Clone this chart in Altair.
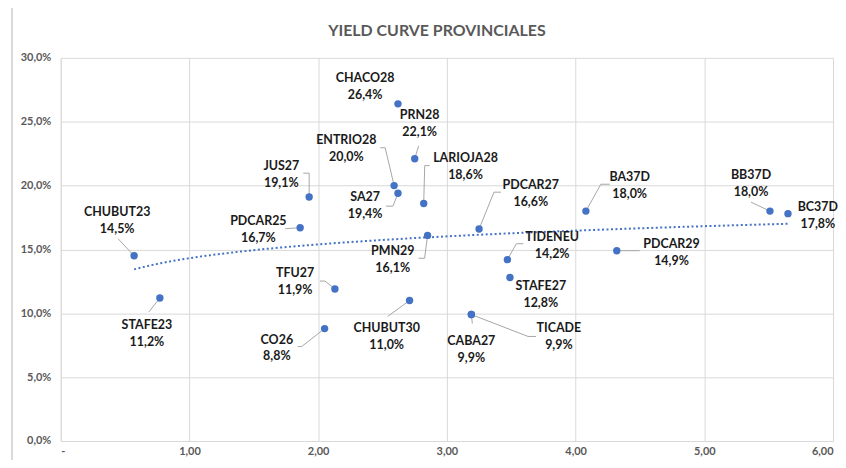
import altair as alt
import pandas as pd

# ---- data ----
names = ["CHUBUT23", "STAFE23", "CO26", "TFU27", "PDCAR25", "JUS27", "CHACO28",
         "PRN28", "ENTRIO28", "SA27", "LARIOJA28", "PMN29", "PDCAR27", "CHUBUT30",
         "CABA27", "TICADE", "TIDENEU", "STAFE27", "BA37D", "PDCAR29", "BB37D", "BC37D"]
duration = [0.57, 0.77, 2.05, 2.13, 1.86, 1.93, 2.62,
            2.75, 2.59, 2.62, 2.82, 2.85, 3.25, 2.71,
            3.19, 3.19, 3.47, 3.49, 4.08, 4.32, 5.51, 5.65]
yields = [14.5, 11.2, 8.8, 11.9, 16.7, 19.1, 26.4,
          22.1, 20.0, 19.4, 18.6, 16.1, 16.6, 11.0,
          9.9, 9.9, 14.2, 12.8, 18.0, 14.9, 18.0, 17.8]

x_ticks = [0, 1, 2, 3, 4, 5, 6]
y_ticks = [0, 5, 10, 15, 20, 25, 30]
title_text = ["YIELD CURVE PROVINCIALES"]

# ---- label layout (pixel offsets from each point) ----
label_offsets = {
    "CHACO28": (-33, -18), "PRN28": (5, -36), "ENTRIO28": (-48, -38), "SA27": (-33, 12),
    "LARIOJA28": (42, -38), "JUS27": (-28, -23), "PDCAR25": (-42, 1), "PMN29": (-35, 24),
    "PDCAR27": (52, -36), "TFU27": (-40, -8), "TIDENEU": (45, -15), "STAFE27": (31, 17),
    "CABA27": (0, 35), "TICADE": (88, 22), "CHUBUT30": (-23, 36), "CO26": (-48, 19),
    "CHUBUT23": (-17, -36), "STAFE23": (-13, 35), "BA37D": (44, -26), "PDCAR29": (55, 1),
    "BB37D": (-19, -28), "BC37D": (30, 1),
}
leaders = {
    "PRN28": [(0, 0), (4, -13)],
    "ENTRIO28": [(0, 0), (-9, -38), (-14, -38)],
    "SA27": [(0, 0), (-5, 13), (-12, 13)],
    "LARIOJA28": [(0, 0), (1, -38), (6, -38)],
    "JUS27": [(0, 0), (0, -24), (-6, -24)],
    "PDCAR25": [(0, 0), (-15, 1)],
    "PMN29": [(0, 0), (-3, 23), (-9, 23)],
    "PDCAR27": [(0, 0), (15, -37), (22, -37)],
    "TFU27": [(0, 0), (-10, -8), (-15, -8)],
    "TIDENEU": [(0, 0), (9, -16), (16, -16)],
    "CABA27": [(0, 0), (1, 9)],
    "TICADE": [(0, 0), (57, 22), (65, 22)],
    "CHUBUT30": [(0, 0), (-22, 16)],
    "CO26": [(0, 0), (-23, 18), (-27, 18)],
    "CHUBUT23": [(0, 0), (-16, -17)],
    "STAFE23": [(0, 0), (-11, 14)],
    "BA37D": [(0, 0), (15, -27), (24, -27)],
    "PDCAR29": [(0, 0), (23, 0)],
    "BB37D": [(0, 0), (-19, -9)],
}

W, H = 776, 385
XMAX, YMAX = 6, 30
kx = XMAX / W
ky = YMAX / H

pts = pd.DataFrame({"name": names, "x": duration, "y": yields})
pts["label"] = [f"{n}\n" + f"{v:.1f}".replace(".", ",") + "%" for n, v in zip(names, yields)]
pts["lx"] = [x + label_offsets[n][0] * kx for n, x in zip(names, duration)]
pts["ly"] = [y - label_offsets[n][1] * ky for n, y in zip(names, yields)]

rows = []
for n, x, y in zip(names, duration, yields):
    for i, (dx, dy) in enumerate(leaders.get(n, [])):
        rows.append({"name": n, "seq": i, "x": x + dx * kx, "y": y - dy * ky})
lead = pd.DataFrame(rows)

xscale = alt.Scale(domain=[0, XMAX], nice=False, zero=True)
yscale = alt.Scale(domain=[0, YMAX], nice=False, zero=True)

xaxis = alt.Axis(values=x_ticks, grid=True, gridColor="#d9d9d9", domainColor="#d9d9d9",
                 ticks=False, labelPadding=5, labelFont="Lato", labelFontSize=11,
                 labelFontWeight="bold", labelColor="#595959", title=None,
                 labelExpr="datum.value == 0 ? '-' : replace(format(datum.value, '.2f'), '.', ',')")
yaxis = alt.Axis(values=y_ticks, grid=True, gridColor="#d9d9d9", domainColor="#d9d9d9",
                 ticks=False, labelPadding=10, labelFont="Lato", labelFontSize=11,
                 labelFontWeight="bold", labelColor="#595959", title=None,
                 labelExpr="replace(format(datum.value, '.1f'), '.', ',') + '%'")

base = alt.Chart(pts)

points = base.mark_circle(size=55, color="#4472C4", opacity=1).encode(
    x=alt.X("x:Q", scale=xscale, axis=xaxis),
    y=alt.Y("y:Q", scale=yscale, axis=yaxis),
)

trend = base.transform_regression("x", "y", method="log").mark_line(
    color="#4472C4", strokeWidth=2, strokeDash=[2, 2.5]
).encode(x=alt.X("x:Q", scale=xscale), y=alt.Y("y:Q", scale=yscale))

leader_lines = alt.Chart(lead).mark_line(color="#a6a6a6", strokeWidth=1).encode(
    x=alt.X("x:Q", scale=xscale), y=alt.Y("y:Q", scale=yscale),
    detail="name:N", order="seq:Q",
)

labels = base.mark_text(lineBreak="\n", font="Lato", fontWeight="bold", fontSize=12.5,
                        lineHeight=17, color="#1a1a1a", baseline="middle", align="center",
                        dy=-8).encode(
    x=alt.X("lx:Q", scale=xscale), y=alt.Y("ly:Q", scale=yscale), text="label:N"
)

title = alt.Chart(pd.DataFrame({"t": title_text})).mark_text(
    font="Lato", fontSize=16, fontWeight="bold", color="#595959", baseline="middle", align="center"
).encode(x=alt.value(W / 2 - 10), y=alt.value(-27), text="t:N")

border = alt.Chart(pts).mark_rule(color="#d9d9d9", strokeWidth=1).encode(
    x=alt.value(-49), y=alt.value(-60), y2=alt.value(H + 40)
)

chart = alt.layer(border, trend, leader_lines, points, labels, title).properties(
    width=W, height=H,
    autosize=alt.AutoSizeParams(type="none"),
    padding={"left": 53, "top": 49, "right": 5, "bottom": 18},
).configure_view(stroke=None)

chart.save("out.html", embed_options={"renderer": "svg", "actions": False})
